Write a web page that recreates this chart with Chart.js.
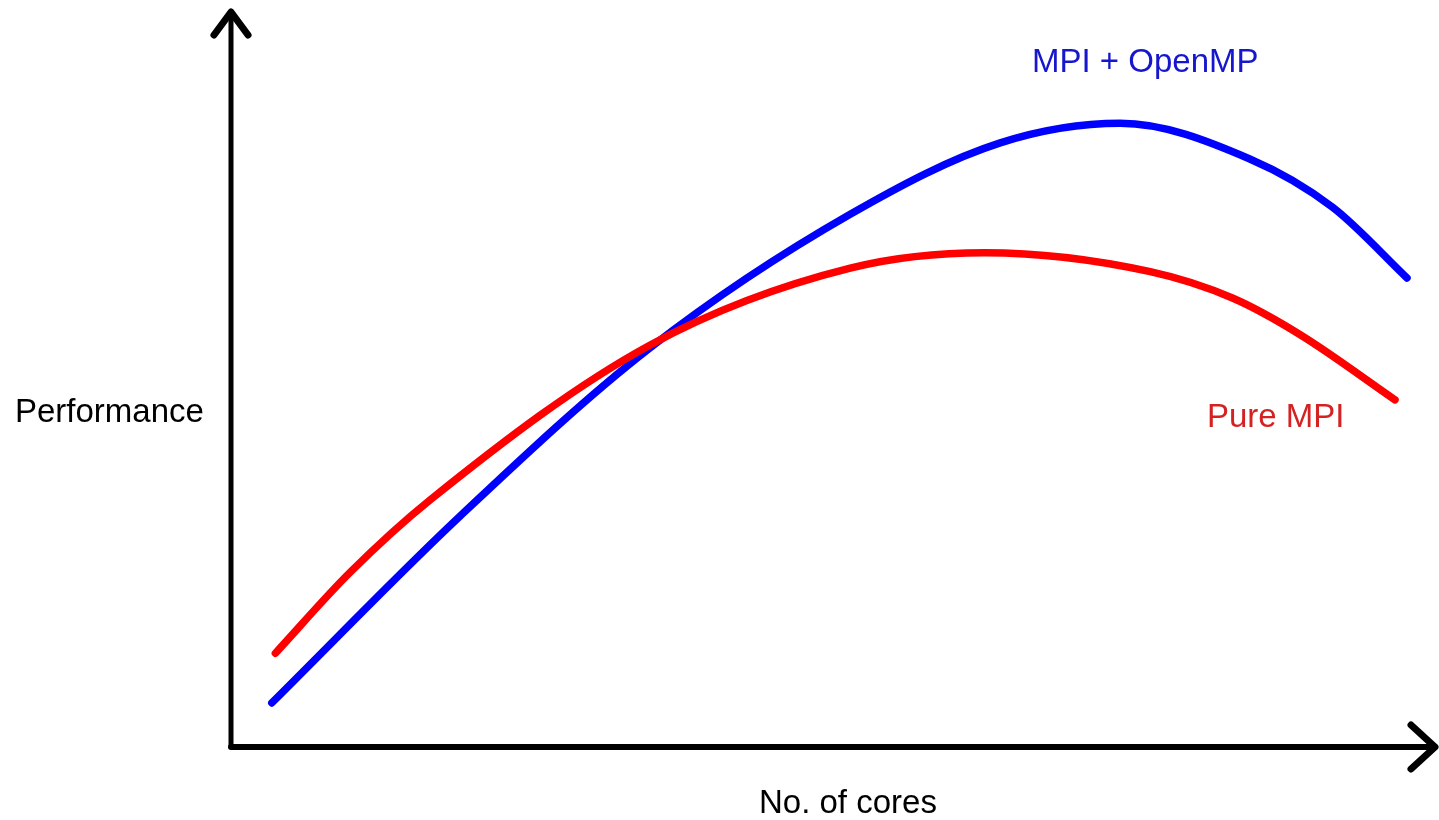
<!DOCTYPE html>
<html>
<head>
<meta charset="utf-8">
<script src="https://cdn.jsdelivr.net/npm/chart.js@4/dist/chart.umd.min.js"></script>
<style>
  html, body { margin: 0; padding: 0; background: #fff; }
  #wrap { width: 1439px; height: 820px; }
</style>
</head>
<body>
<div id="wrap"><canvas id="perfChart"></canvas></div>
<script>
// values (arbitrary units, 0..100 on both axes)
const hybridCores = [3.4, 19.1, 34.9, 51.6, 64.1, 74.1, 84.9, 91.8, 98.0];
const hybridPerf  = [6.3, 33.0, 57.0, 76.1, 86.3, 89.1, 84.0, 77.1, 67.0];
const pureCores   = [3.7, 9.9, 16.6, 34.9, 51.6, 62.8, 76.6, 83.5, 89.1, 97.0];
const purePerf    = [13.4, 24.9, 35.3, 57.4, 68.4, 70.6, 67.9, 64.1, 58.9, 49.6];
const seriesNames = ['MPI + OpenMP', 'Pure MPI'];
const axisNames   = ['No. of cores', 'Performance'];

const toPoints = (xs, ys) => xs.map((x, i) => ({ x: x, y: ys[i] }));

const FONT = '33px "Liberation Sans", Arial, sans-serif';

// hand-drawn style axes with arrow heads, plus the text labels
const sketchAxes = {
    id: 'sketchAxes',
    afterDatasetsDraw(chart) {
        const ctx = chart.ctx;
        const x0 = chart.scales.x.getPixelForValue(0);
        const y0 = chart.scales.y.getPixelForValue(0);
        ctx.save();
        ctx.strokeStyle = '#000';
        ctx.lineCap = 'round';
        ctx.lineJoin = 'round';

        // y axis
        ctx.lineWidth = 5;
        ctx.beginPath();
        ctx.moveTo(x0, y0);
        ctx.lineTo(x0, 12);
        ctx.stroke();
        ctx.lineWidth = 7;
        ctx.beginPath();
        ctx.moveTo(x0 - 17, 35);
        ctx.lineTo(x0, 12);
        ctx.lineTo(x0 + 17, 35);
        ctx.stroke();

        // x axis
        ctx.lineWidth = 6;
        ctx.beginPath();
        ctx.moveTo(x0, y0);
        ctx.lineTo(1435, y0);
        ctx.stroke();
        ctx.lineWidth = 7;
        ctx.beginPath();
        ctx.moveTo(1411, y0 - 22);
        ctx.lineTo(1435, y0);
        ctx.lineTo(1411, y0 + 22);
        ctx.stroke();

        ctx.font = FONT;
        ctx.textBaseline = 'alphabetic';
        ctx.textAlign = 'left';
        ctx.fillStyle = '#000';
        ctx.fillText(axisNames[1], 15, 422);
        ctx.fillText(axisNames[0], 759, 813);
        ctx.fillStyle = '#1616cc';
        ctx.fillText(seriesNames[0], 1032, 72);
        ctx.fillStyle = '#d42222';
        ctx.fillText(seriesNames[1], 1207, 427);
        ctx.restore();
    }
};

const ctx = document.getElementById('perfChart').getContext('2d');
const perfChart = new Chart(ctx, {
    type: 'line',
    data: {
        datasets: [{
            label: seriesNames[1],
            data: toPoints(pureCores, purePerf),
            borderColor: '#ff0000',
            borderWidth: 7.5,
            borderCapStyle: 'round',
            pointRadius: 0,
            cubicInterpolationMode: 'monotone',
            fill: false
        }, {
            label: seriesNames[0],
            data: toPoints(hybridCores, hybridPerf),
            borderColor: '#0000ff',
            borderWidth: 7.5,
            borderCapStyle: 'round',
            pointRadius: 0,
            cubicInterpolationMode: 'monotone',
            fill: false
        }]
    },
    options: {
        responsive: true,
        maintainAspectRatio: false,
        animation: false,
        layout: { padding: { left: 231, right: 8, top: 47, bottom: 73 } },
        plugins: {
            legend: { display: false },
            tooltip: { enabled: false }
        },
        scales: {
            x: { type: 'linear', min: 0, max: 100, display: false },
            y: { type: 'linear', min: 0, max: 100, display: false }
        }
    },
    plugins: [sketchAxes]
});
</script>
</body>
</html>
